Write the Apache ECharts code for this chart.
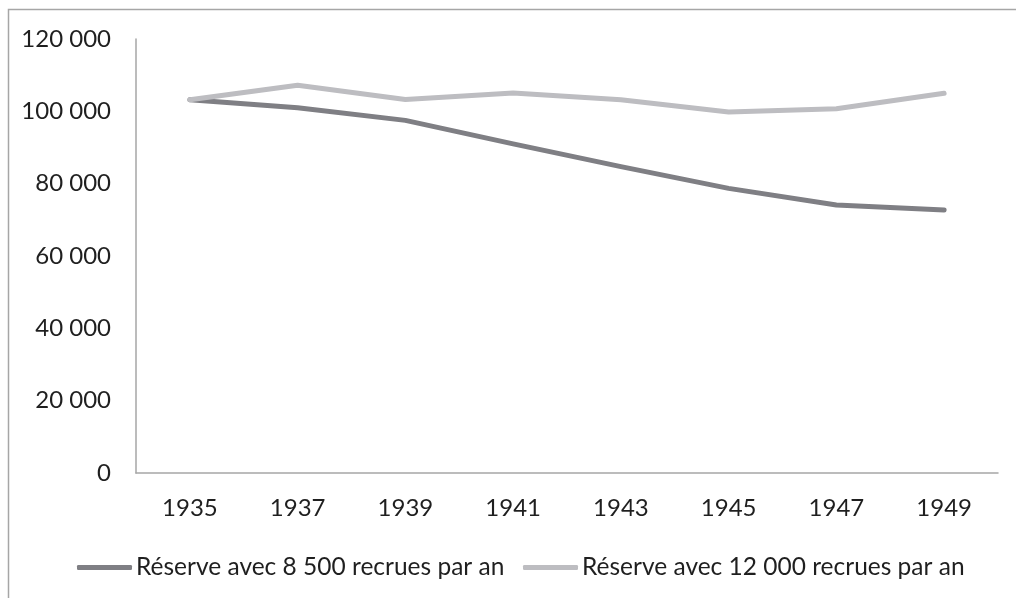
<!DOCTYPE html>
<html><head><meta charset="utf-8">
<script src="https://cdn.jsdelivr.net/npm/echarts@6/dist/echarts.min.js"></script>
<style>html,body{margin:0;padding:0;background:#fff}#c{width:1016px;height:598px}</style>
</head><body><div id="c"></div>
<script>
var years = ['1935','1937','1939','1941','1943','1945','1947','1949'];
var names = ['Réserve avec 8 500 recrues par an','Réserve avec 12 000 recrues par an'];
var reserve8500 = [103200, 101000, 97500, 91000, 84700, 78700, 74100, 72700];
var reserve12000 = [103200, 107200, 103300, 105100, 103200, 99800, 100700, 105000];
var yTicks = [0, 20000, 40000, 60000, 80000, 100000, 120000];

var FONT = 'Lato';
var TXT = '#1f1f1f';
var chart = echarts.init(document.getElementById('c'));
function fmt(v){ return String(v).replace(/\B(?=(\d{3})+(?!\d))/g, ' '); }
var legendBase = {top: 550, itemWidth: 55, itemHeight: 5, icon: 'roundRect', itemGap: 0,
  textStyle: {fontFamily: FONT, fontSize: 24.5, color: TXT, padding:[0,0,0,-1]}};
chart.setOption({
  animation: false,
  graphic: [{type:'rect', shape:{x:8.5,y:9.5,width:1100,height:700}, style:{fill:'none', stroke:'#a6a6a6', lineWidth:1.5}, silent:true}],
  grid: {left:136, right:18, top:39, bottom:125, containLabel:false},
  legend: [
    Object.assign({data:[names[0]], left:72}, legendBase),
    Object.assign({data:[names[1]], left:518}, legendBase)
  ],
  xAxis: {
    type:'category', data: years, boundaryGap: true,
    axisLine:{lineStyle:{color:'#a6a6a6', width:1.5}},
    axisTick:{show:false},
    axisLabel:{fontFamily:FONT, fontSize:24, color:TXT, margin:23}
  },
  yAxis: {
    type:'value', min: yTicks[0], max: yTicks[yTicks.length-1], interval: 20000,
    axisLine:{show:true, lineStyle:{color:'#a6a6a6', width:1.5}},
    axisTick:{show:false}, splitLine:{show:false},
    axisLabel:{fontFamily:FONT, fontSize:24, color:TXT, margin:25, formatter: fmt}
  },
  series: [
    {name:names[0], type:'line', data: reserve8500, symbol:'none', color:'#7f7f84',
     lineStyle:{width:5, color:'#7f7f84', cap:'round', join:'round'}},
    {name:names[1], type:'line', data: reserve12000, symbol:'none', color:'#bdbdc1',
     lineStyle:{width:5, color:'#bdbdc1', cap:'round', join:'round'}}
  ]
});
</script></body></html>
